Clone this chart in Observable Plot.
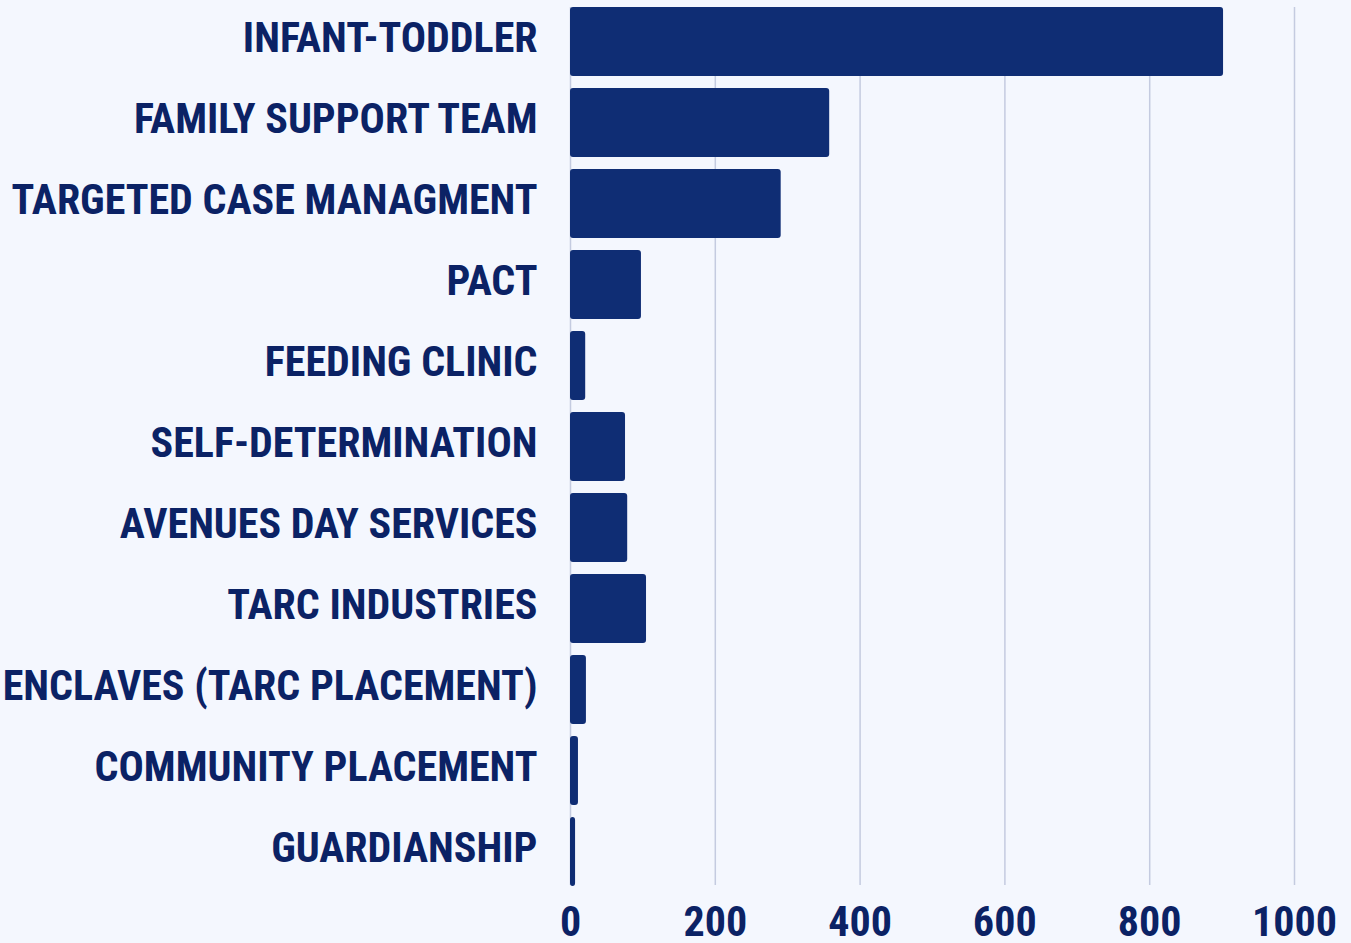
<!DOCTYPE html>
<html>
<head>
<meta charset="utf-8">
<script src="https://cdn.jsdelivr.net/npm/d3@7"></script>
<script src="https://cdn.jsdelivr.net/npm/@observablehq/plot@0.6"></script>
<style>
  html, body { margin: 0; padding: 0; background: #f4f7fe; }
  #chart svg { display: block; }
</style>
</head>
<body>
<div id="chart"></div>
<script>
const categories = [
  "INFANT-TODDLER",
  "FAMILY SUPPORT TEAM",
  "TARGETED CASE MANAGMENT",
  "PACT",
  "FEEDING CLINIC",
  "SELF-DETERMINATION",
  "AVENUES DAY SERVICES",
  "TARC INDUSTRIES",
  "ENCLAVES (TARC PLACEMENT)",
  "COMMUNITY PLACEMENT",
  "GUARDIANSHIP"
];
const values = [902, 358, 291, 98, 21, 76, 79, 105, 22, 11, 7];
const xTicks = [0, 200, 400, 600, 800, 1000];

const data = categories.map((c, i) => ({category: c, value: values[i]}));

const navy = "#0f2d74";
const textColor = "#0b2265";

const chart = Plot.plot({
  width: 1351,
  height: 943,
  marginLeft: 570,
  marginRight: 57,
  marginTop: 1,
  marginBottom: 51,
  style: {
    background: "#f4f7fe",
    fontFamily: "'Liberation Sans Narrow', 'Roboto Condensed', Roboto, sans-serif",
    fontWeight: "bold",
    color: textColor
  },
  x: {domain: [0, 1000], label: null},
  y: {domain: categories, label: null, padding: 0},
  marks: [
    Plot.gridX(xTicks, {stroke: "#c4cbe0", strokeOpacity: 1, strokeWidth: 1.5, insetTop: 6, insetBottom: 7}),
    Plot.barX(data, {x: "value", y: "category", fill: navy, rx: 3, insetTop: 6, insetBottom: 6}),
    Plot.axisY({tickSize: 0, tickPadding: 33, fontSize: 42, dy: -3, fill: textColor, fontWeight: "bold"}),
    Plot.axisX({ticks: xTicks, tickSize: 0, tickPadding: 14, fontSize: 42, fill: textColor, fontWeight: "bold", tickFormat: d => String(d)})
  ]
});
document.getElementById("chart").appendChild(chart);
</script>
</body>
</html>
